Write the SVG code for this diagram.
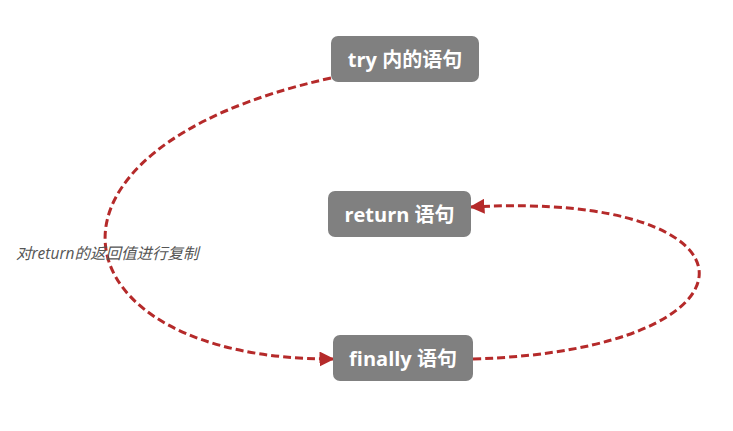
<svg xmlns="http://www.w3.org/2000/svg" width="733" height="431" viewBox="0 0 733 431">
<defs>
<style>
.node rect{fill:#808080;}
.node text{fill:#ffffff;font-family:"Open Sans","Noto Sans CJK SC",sans-serif;font-weight:bold;font-size:20px;text-anchor:middle;dominant-baseline:central;}
.edge{fill:none;stroke:#b52a2a;stroke-width:3;stroke-dasharray:8 4;}
.label{fill:#555555;font-family:"Open Sans","Noto Sans CJK SC",sans-serif;font-style:italic;font-size:15.5px;}
</style>
<marker id="arrow" viewBox="0 0 10 10" refX="9" refY="5" markerWidth="5" markerHeight="5" orient="auto" markerUnits="strokeWidth">
<path d="M0,0 L10,5 L0,10 z" fill="#b52a2a"/>
</marker>
</defs>
<g id="connectors">
<path class="edge" d="M331,78 C5,150 55,360 333,359" marker-end="url(#arrow)"/>
<path class="edge" d="M473,359 C775,350 775,190 471,207" marker-end="url(#arrow)"/>
<text class="label" x="16" y="259">对return的返回值进行复制</text>
</g>
<g id="node-try" class="node">
<rect x="331" y="36" width="148" height="46" rx="7"/>
<text x="405" y="59">try 内的语句</text>
</g>
<g id="node-return" class="node">
<rect x="328" y="191" width="143" height="46" rx="7"/>
<text x="399.5" y="214">return 语句</text>
</g>
<g id="node-finally" class="node">
<rect x="333" y="335" width="140" height="46" rx="7"/>
<text x="403" y="358">finally 语句</text>
</g>
</svg>
